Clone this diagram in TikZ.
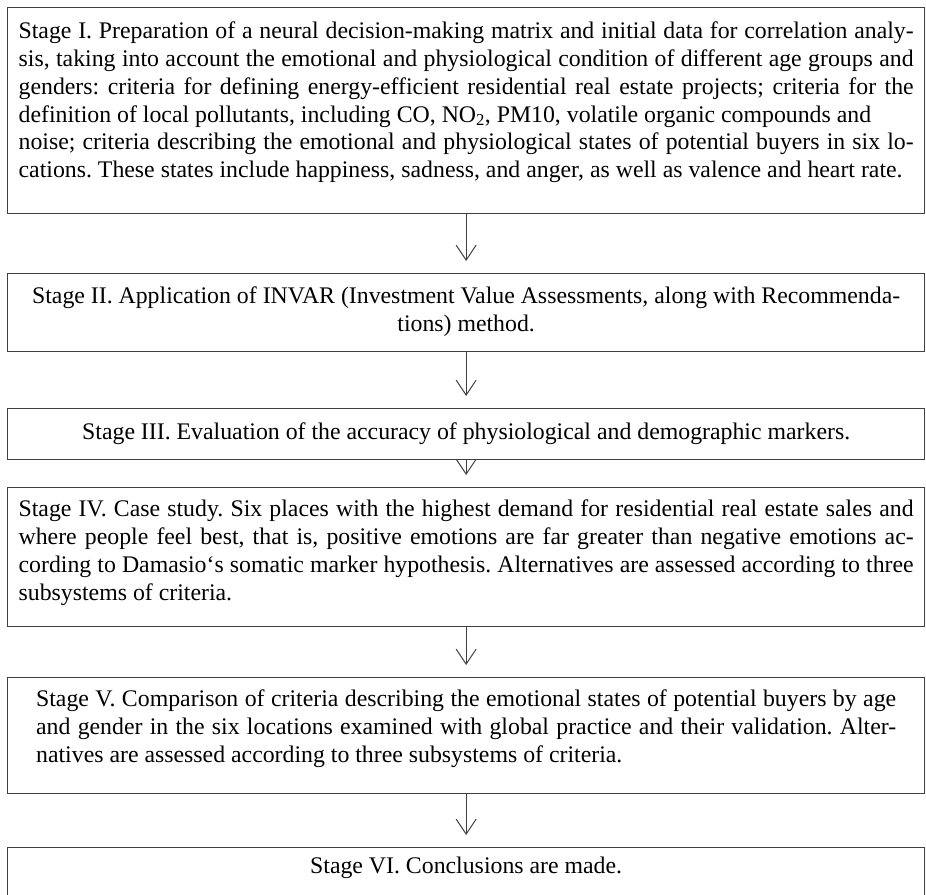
\documentclass[tikz,border=0pt]{standalone}
\usepackage{fontspec}
\setmainfont{Liberation Serif}
\usetikzlibrary{arrows.meta}
\begin{document}
\begin{tikzpicture}[x=1pt,y=-1pt,
  stagebox/.style={draw=black!75, line width=1.3pt, inner xsep=0pt, inner ysep=0pt,
    minimum width=917pt, anchor=north west,
    font=\fontsize{23.8}{27.9}\selectfont,
    execute at begin node={\frenchspacing\hyphenpenalty=10000\relax\exhyphenpenalty=10000\relax\tolerance=10000\relax\hbadness=10000\relax}},
  arr/.style={draw=black!75, line width=1pt, -{Straight Barb[length=15pt,width=20pt]}}]
\useasboundingbox (0,0) rectangle (926,894);

\node[stagebox, text width=895pt, align=justify] (s1) at (7,7)
{\noindent\rule{0pt}{30.7pt}Stage I. Preparation of a neural decision-making matrix and initial data for correlation analy-\break
sis, taking into account the emotional and physiological condition of different age groups and\break
genders: criteria for defining energy-efficient residential real estate projects; criteria for the\break
definition of local pollutants, including CO, NO\textsubscript{2}, PM10, volatile organic compounds and\hfil\break
noise; criteria describing the emotional and physiological states of potential buyers in six lo-\break
cations. These states include happiness, sadness, and anger, as well as valence and heart rate.\rule[-35.8pt]{0pt}{0pt}};

\node[stagebox, text width=895pt, align=flush center] (s2) at (7,273)
{\rule{0pt}{30pt}Stage II. Application of INVAR (Investment Value Assessments, along with Recommenda-\break
tions) method.\rule[-20pt]{0pt}{0pt}};

\node[stagebox, text width=895pt, align=flush center] (s3) at (7,408)
{\rule{0pt}{31pt}Stage III. Evaluation of the accuracy of physiological and demographic markers.\rule[-20pt]{0pt}{0pt}};

\node[stagebox, text width=895pt, align=justify] (s4) at (7,487)
{\noindent\rule{0pt}{29pt}Stage IV. Case study. Six places with the highest demand for residential real estate sales and\break
where people feel best, that is, positive emotions are far greater than negative emotions ac-\break
cording to Damasio‘s somatic marker hypothesis. Alternatives are assessed according to three\break
subsystems of criteria.\rule[-26pt]{0pt}{0pt}};

\node[stagebox, text width=860pt, align=justify] (s5) at (7,677)
{\noindent\rule{0pt}{29pt}Stage V. Comparison of criteria describing the emotional states of potential buyers by age\break
and gender in the six locations examined with global practice and their validation. Alter-\break
natives are assessed according to three subsystems of criteria.\rule[-31pt]{0pt}{0pt}};

\node[stagebox, text width=895pt, align=flush center] (s6) at (7,847)
{\rule{0pt}{26pt}Stage VI. Conclusions are made.\rule[-30pt]{0pt}{0pt}};

\draw[arr] (s1.south) -- ([yshift=12pt]s2.north);
\draw[arr] (s2.south) -- ([yshift=12pt]s3.north);
\draw[arr] (s3.south) -- ([yshift=12pt]s4.north);
\draw[arr] (s4.south) -- ([yshift=12pt]s5.north);
\draw[arr] (s5.south) -- ([yshift=12pt]s6.north);
\end{tikzpicture}
\end{document}
